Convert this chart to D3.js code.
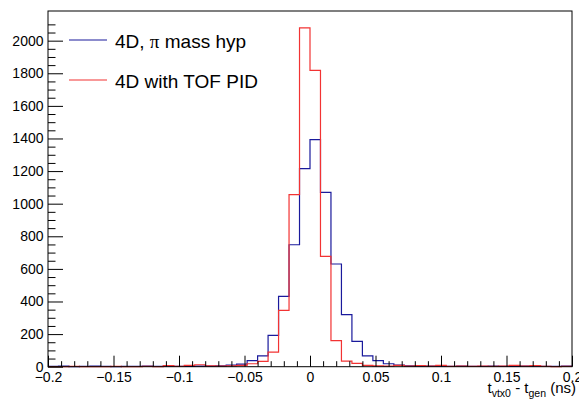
<!DOCTYPE html>
<html>
<head>
<meta charset="utf-8">
<script src="https://cdn.jsdelivr.net/npm/d3@7"></script>
<style>
  body { margin: 0; background: #fff; }
  svg { display: block; font-family: "Liberation Sans", Arial, Helvetica, sans-serif; }
</style>
</head>
<body>
<div id="vis"></div>
<script>
// histogram of t_vtx0 - t_gen, two reco hypotheses

const FRAME_WIDTH = 579;
const FRAME_HEIGHT = 401;
const MARGINS = {left: 48, right: 7, top: 11, bottom: 34.3};

const VIS_WIDTH = FRAME_WIDTH - MARGINS.left - MARGINS.right;
const VIS_HEIGHT = FRAME_HEIGHT - MARGINS.top - MARGINS.bottom;

// binning: 50 bins from -0.2 to 0.2 ns
const X_MIN = -0.2;
const X_MAX = 0.2;
const N_BINS = 50;
const Y_MAX = 2182;

// bin contents, left to right
const pionHyp = [2, 3, 1, 2, 3, 2, 1, 2, 2, 3,
                 2, 3, 2, 2, 4, 3, 5, 10, 16, 37,
                 67, 192, 431, 748, 1215, 1393, 1069, 630, 319, 155,
                 67, 37, 18, 10, 5, 4, 3, 3, 2, 3,
                 2, 2, 3, 2, 2, 3, 4, 2, 2, 3];
const tofPid = [1, 0, 2, 1, 1, 0, 2, 1, 1, 2,
                1, 6, 2, 8, 12, 5, 4, 5, 8, 18,
                33, 90, 345, 1055, 2078, 1818, 677, 160, 34, 20,
                8, 5, 4, 8, 3, 7, 3, 8, 2, 3,
                2, 3, 2, 4, 8, 3, 6, 2, 1, 2];

const seriesNames = ["4D, ", "4D with TOF PID"];
const seriesColors = ["#1a1a9c", "#f23333"];

const xMajor = [-0.2, -0.15, -0.1, -0.05, 0, 0.05, 0.1, 0.15, 0.2];
const xLabels = ["\u22120.2", "\u22120.15", "\u22120.1", "\u22120.05", "0", "0.05", "0.1", "0.15", "0.2"];
const yMajor = [0, 200, 400, 600, 800, 1000, 1200, 1400, 1600, 1800, 2000];

const svg = d3.select("#vis")
              .append("svg")
              .attr("width", FRAME_WIDTH)
              .attr("height", FRAME_HEIGHT);

const X_SCALE = d3.scaleLinear().domain([X_MIN, X_MAX]).range([0, VIS_WIDTH]);
const Y_SCALE = d3.scaleLinear().domain([0, Y_MAX]).range([VIS_HEIGHT, 0]);

const plot = svg.append("g")
                .attr("transform", "translate(" + MARGINS.left + "," + MARGINS.top + ")");

// bin edges
const binW = (X_MAX - X_MIN) / N_BINS;
const edges = d3.range(N_BINS + 1).map((k) => X_MIN + k * binW);

const stepLine = d3.line()
                   .x((d) => X_SCALE(d[0]))
                   .y((d) => Y_SCALE(d[1]))
                   .curve(d3.curveStepAfter);

function histPoints(vals) {
  const pts = vals.map((v, k) => [edges[k], v]);
  pts.push([edges[N_BINS], vals[N_BINS - 1]]);
  return pts;
}

[pionHyp, tofPid].forEach((vals, i) => {
  plot.append("path")
      .attr("d", stepLine(histPoints(vals)))
      .attr("fill", "none")
      .attr("stroke", seriesColors[i])
      .attr("stroke-width", 1.2);
});

// frame
plot.append("rect")
    .attr("width", VIS_WIDTH)
    .attr("height", VIS_HEIGHT)
    .attr("fill", "none")
    .attr("stroke", "#000")
    .attr("stroke-width", 1);

// x axis: major + minor ticks pointing up
const xMinor = d3.range(-0.2, 0.2001, 0.01).filter((v) => Math.abs(v * 100 - Math.round(v * 20) * 5) > 0.01);
const xAxisG = plot.append("g").attr("transform", "translate(0," + VIS_HEIGHT + ")");
xAxisG.append("g")
      .call(d3.axisBottom(X_SCALE).tickValues(xMinor).tickSize(-5.5).tickFormat(""))
      .call((g) => g.select(".domain").remove());
xAxisG.append("g")
      .call(d3.axisBottom(X_SCALE).tickValues(xMajor).tickSize(-11).tickPadding(5.5)
              .tickFormat((d, i) => xLabels[i]))
      .call((g) => g.select(".domain").remove())
      .selectAll("text")
      .attr("font-size", "14px")
      .attr("fill", "#000")
      .attr("font-family", "'Liberation Sans', Arial, sans-serif");

// y axis: major + minor ticks pointing right
const yMinor = d3.range(0, 2150, 50).filter((v) => v % 200 !== 0);
const yAxisG = plot.append("g");
yAxisG.append("g")
      .call(d3.axisLeft(Y_SCALE).tickValues(yMinor).tickSize(-7.5).tickFormat(""))
      .call((g) => g.select(".domain").remove());
yAxisG.append("g")
      .call(d3.axisLeft(Y_SCALE).tickValues(yMajor).tickSize(-15).tickPadding(4.5)
              .tickFormat(d3.format("d")))
      .call((g) => g.select(".domain").remove())
      .selectAll("text")
      .attr("font-size", "14px")
      .attr("fill", "#000")
      .attr("font-family", "'Liberation Sans', Arial, sans-serif");
plot.selectAll(".tick line").attr("stroke", "#000");

// x axis title
const title = svg.append("text")
                 .attr("x", 576)
                 .attr("y", 392.5)
                 .attr("text-anchor", "end")
                 .attr("font-size", "15px")
                 .attr("fill", "#000");
title.append("tspan").text("t");
title.append("tspan").attr("font-size", "10.5px").attr("dy", 4.5).text("vtx0");
title.append("tspan").attr("dy", -4.5).text(" - t");
title.append("tspan").attr("font-size", "10.5px").attr("dy", 4.5).text("gen");
title.append("tspan").attr("dy", -4.5).text(" (ns)");

// legend
const legendY = [40, 80];
seriesNames.forEach((name, i) => {
  svg.append("line")
     .attr("x1", 69).attr("x2", 107)
     .attr("y1", legendY[i]).attr("y2", legendY[i])
     .attr("stroke", seriesColors[i])
     .attr("stroke-width", 1.2);
  const t = svg.append("text")
               .attr("x", 115)
               .attr("y", legendY[i] + 7.5)
               .attr("font-size", "19px")
               .attr("fill", "#000")
               .text(name);
  if (i === 0) {
    t.append("tspan").attr("font-family", "'Liberation Serif', 'DejaVu Serif', serif").text("\u03c0");
    t.append("tspan").text(" mass hyp");
  }
});
</script>
</body>
</html>
